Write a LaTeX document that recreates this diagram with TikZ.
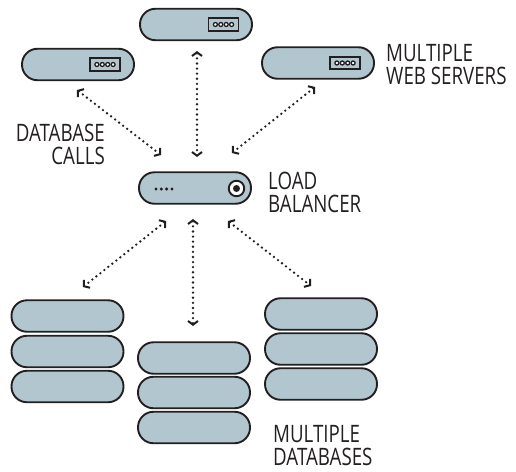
\documentclass[tikz,border=0pt]{standalone}
\usepackage{fontspec}
\setmainfont[FakeStretch=0.78]{Open Sans}
\usetikzlibrary{arrows.meta}
\definecolor{pillfill}{HTML}{B1C6CF}
\definecolor{ink}{HTML}{231F20}
\tikzset{
  x=1pt,y=-1pt,
  pill/.style={draw=ink,fill=pillfill,line width=1.9pt,rectangle,rounded corners=15.5pt,minimum width=112pt,minimum height=31.5pt,inner sep=0pt},
  port/.style={draw=ink,fill=pillfill,line width=1.9pt,rectangle,minimum width=30pt,minimum height=12.5pt,inner sep=0pt},
  portdot/.style={draw=ink,line width=1.3pt,circle,fill=white,minimum size=4pt,inner sep=0pt},
  leddot/.style={fill=ink,circle,minimum size=3.4pt,inner sep=0pt},
  link/.style={draw=ink,line width=2.6pt,line cap=round,dash pattern=on 0pt off 5.1pt,{Straight Barb[length=3.8pt,width=10pt,line width=2pt]}-{Straight Barb[length=3.8pt,width=10pt,line width=2pt]}},
  lbl/.style={font=\fontsize{24}{23}\selectfont,text=ink,inner sep=0pt,anchor=north west,align=left}
}
\begin{document}
\begin{tikzpicture}
\useasboundingbox (0,0) rectangle (516,471);
% web servers
\node[pill] (webtop) at (196,24.5) {};
\node[pill] (webleft) at (78,64.5) {};
\node[pill] (webright) at (318,63) {};
\foreach \s/\cx/\cy in {webtop/223.5/24.5,webleft/105/64.5,webright/345/63}{
  \node[port] (\s port) at (\cx,\cy) {};
  \foreach \i in {-1.5,-0.5,0.5,1.5}
    \node[portdot] (\s dot\i) at (\cx+\i*5.4,\cy) {};
}
% load balancer
\node[pill] (lb) at (195,188) {};
\foreach \i/\px in {1/156,2/161.3,3/166.6,4/172}
  \node[leddot] (led\i) at (\px,189) {};
\node[draw=ink,fill=white,line width=1.9pt,circle,minimum size=15.5pt,inner sep=0pt] (lamp) at (236.5,188.5) {};
\node[fill=ink,circle,minimum size=7pt,inner sep=0pt] (lampcore) at (236.5,188.5) {};
% databases
\node[pill] (dba1) at (67.5,316) {};
\node[pill] (dba2) at (67.5,351.5) {};
\node[pill] (dba3) at (67.5,386.5) {};
\node[pill] (dbb1) at (194,358) {};
\node[pill] (dbb2) at (194,392.5) {};
\node[pill] (dbb3) at (194,427.5) {};
\node[pill] (dbc1) at (321,314) {};
\node[pill] (dbc2) at (321,349) {};
\node[pill] (dbc3) at (321,384) {};
% connector ends
\coordinate (a1) at (77,90);   \coordinate (a2) at (161,155);
\coordinate (b1) at (197,51);  \coordinate (b2) at (197,157);
\coordinate (c1) at (315,87);  \coordinate (c2) at (232,153);
\coordinate (d1) at (166,221); \coordinate (d2) at (83,287);
\coordinate (e1) at (193,219); \coordinate (e2) at (193,326);
\coordinate (f1) at (228,221); \coordinate (f2) at (311,286);
\draw[link] (a1) -- (a2);
\draw[link] (b1) -- (b2);
\draw[link] (c1) -- (c2);
\draw[link] (d1) -- (d2);
\draw[link] (e1) -- (e2);
\draw[link] (f1) -- (f2);
% labels
\node[lbl,anchor=north east,align=right] (calls) at (105,124) {DATABASE\\CALLS};
\node[lbl] (lblb) at (268,171.5) {LOAD\\BALANCER};
\node[lbl] (lweb) at (386,44) {MULTIPLE\\WEB SERVERS};
\node[lbl] (ldb) at (273,425) {MULTIPLE\\DATABASES};
\end{tikzpicture}
\end{document}
